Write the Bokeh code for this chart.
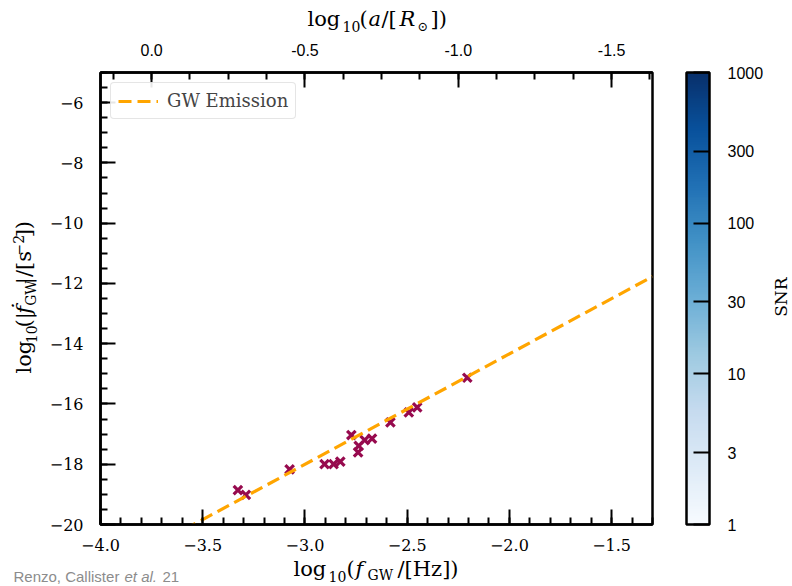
import math
from bokeh.plotting import figure
from bokeh.layouts import column, row
from bokeh.models import (Range1d, LinearAxis, SingleIntervalTicker, CustomJSTickFormatter,
                          ColorBar, LogColorMapper, FixedTicker, Label, Legend, LegendItem,
                          ColumnDataSource)
from bokeh.palettes import Blues256
from bokeh.embed import file_html
from bokeh.resources import INLINE

# ---------------- data ----------------
log_f_gw = [-3.328, -3.289, -3.075, -2.904, -2.860, -2.827, -2.773, -2.740,
            -2.737, -2.708, -2.672, -2.582, -2.492, -2.451, -2.206]
log_fdot_gw = [-18.86, -19.02, -18.17, -18.00, -18.00, -17.91, -17.03, -17.61,
               -17.39, -17.20, -17.15, -16.61, -16.28, -16.11, -15.13]

gw_line_log_f = [-4.0, -1.3]
gw_line_log_fdot = [-21.67, -11.77]

x_limits = [-4.0, -1.3]
y_limits = [-20.0, -5.0]
# top axis: log10(a/Rsun) = a_offset - (2/3) log10(f_GW)
a_offset = -2.5
a_limits = [a_offset - (2.0 / 3.0) * x_limits[0], a_offset - (2.0 / 3.0) * x_limits[1]]

snr_low, snr_high = 1, 1000
snr_ticks = [1, 3, 10, 30, 100, 300, 1000]

SERIF = "DejaVu Serif"
SANS = "Liberation Sans"

# page geometry (px)
W, H = 792, 586
TOP_H, BOT_H = 36, 29
LEFT_W, RIGHT_W = 45, 26
MAIN_H = H - TOP_H - BOT_H
P_W = 617          # main plot figure: frame from x=100 to x=652 on the page
CB_W = W - LEFT_W - RIGHT_W - P_W   # colour-bar figure

# ---------------- main figure ----------------
p = figure(width=P_W, height=MAIN_H, output_backend="svg", toolbar_location=None,
           x_range=Range1d(*x_limits), y_range=Range1d(*y_limits),
           min_border_left=55, min_border_right=10, min_border_top=36,
           min_border_bottom=33)
p.background_fill_color = "white"
p.border_fill_color = "white"
p.xgrid.visible = False
p.ygrid.visible = False
p.outline_line_color = "black"
p.outline_line_width = 2.5

src = ColumnDataSource(dict(x=log_f_gw, y=log_fdot_gw))
p.scatter("x", "y", source=src, marker="x", size=12, line_width=3.2,
          line_color="#970a4e")

line_r = p.line(gw_line_log_f, gw_line_log_fdot, line_color="#FFA500",
                line_width=3.2, line_dash="13 6")

def style_axis(ax, font, size):
    ax.axis_line_width = 2.5
    ax.axis_line_color = "black"
    ax.major_tick_in = 15
    ax.major_tick_out = 0
    ax.minor_tick_in = 7
    ax.minor_tick_out = 0
    ax.major_tick_line_width = 2
    ax.minor_tick_line_width = 2
    ax.major_tick_line_color = "black"
    ax.minor_tick_line_color = "black"
    ax.major_label_text_font = font
    ax.major_label_text_font_size = size
    ax.major_label_text_color = "black"

xa = p.xaxis[0]
xa.ticker = SingleIntervalTicker(interval=0.5, num_minor_ticks=5)
xa.formatter = CustomJSTickFormatter(code="return tick.toFixed(1).replace('-', '\u2212');")
style_axis(xa, SERIF, "16px")
xa.major_label_standoff = 14

ya = p.yaxis[0]
ya.ticker = SingleIntervalTicker(interval=2, num_minor_ticks=4)
ya.formatter = CustomJSTickFormatter(code="return tick.toFixed(0).replace('-', '\u2212');")
style_axis(ya, SERIF, "16px")
ya.major_label_standoff = 17

p.extra_x_ranges = {"a": Range1d(a_limits[0], a_limits[1])}
ta = LinearAxis(x_range_name="a",
                ticker=SingleIntervalTicker(interval=0.5, num_minor_ticks=4),
                formatter=CustomJSTickFormatter(code="return tick.toFixed(1);"))
style_axis(ta, SANS, "16px")
ta.major_label_standoff = 17
p.add_layout(ta, "above")

# ---------------- legend ----------------
legend = Legend(items=[LegendItem(label="GW Emission", renderers=[line_r])],
                location="top_left", margin=10, padding=7, spacing=0,
                label_text_font=SERIF, label_text_font_size="18px",
                label_standoff=9, glyph_width=40, glyph_height=20,
                border_line_color="#cccccc", border_line_width=1,
                border_radius=4, background_fill_color="white",
                background_fill_alpha=0.9)
p.add_layout(legend)

# ---------------- colour bar figure (1 px frame, bar in its right panel) ----------------
cbf = figure(width=CB_W, height=MAIN_H, output_backend="svg", toolbar_location=None,
             x_range=Range1d(0, 1), y_range=Range1d(*y_limits),
             min_border_left=23, min_border_right=CB_W - 24, min_border_top=36,
             min_border_bottom=33, x_axis_type=None, y_axis_type=None)
cbf.grid.visible = False
cbf.outline_line_color = None
cbf.border_fill_color = "white"

mapper = LogColorMapper(palette=list(reversed(Blues256)), low=snr_low, high=snr_high)
cb = ColorBar(color_mapper=mapper, ticker=FixedTicker(ticks=snr_ticks),
              formatter=CustomJSTickFormatter(code="return String(Math.round(tick));"),
              location="top_left", orientation="vertical", width=23, height="auto",
              margin=0, padding=0,
              bar_line_color="black", bar_line_width=2.5,
              major_tick_line_color="black", major_tick_line_width=2,
              major_tick_in=16, major_tick_out=0, minor_tick_line_color=None,
              major_label_text_font=SANS, major_label_text_font_size="16px",
              major_label_text_color="black", label_standoff=18,
              background_fill_alpha=0, border_line_color=None)
cbf.add_layout(cb, "right")

# ---------------- text strips around the plot ----------------
def text_fig(w, h):
    f = figure(width=w, height=h, x_range=Range1d(0, w), y_range=Range1d(0, h),
               output_backend="svg", toolbar_location=None, min_border=0,
               x_axis_type=None, y_axis_type=None)
    f.grid.visible = False
    f.outline_line_color = None
    f.background_fill_color = "white"
    f.border_fill_color = "white"
    return f

top_f = text_fig(W, TOP_H)
bot_f = text_fig(W, BOT_H)
left_f = text_fig(LEFT_W, MAIN_H)
right_f = text_fig(RIGHT_W, MAIN_H)

BASE_SHIFT = 0.4   # empirical: Bokeh draws "alphabetic" text ~0.4 em below the anchor

def piece(fig, ox, oy, text, X, Y, size, font=SERIF, style="normal", angle=0.0,
          color="black", align="left"):
    """Place text with its baseline at page pixel (X, Y); (ox, oy) = strip's top-left."""
    if angle == 0.0:
        Y = Y - BASE_SHIFT * size
    else:
        X = X - BASE_SHIFT * size
    fh = fig.height
    fig.add_layout(Label(x=X - ox, y=fh - (Y - oy), x_units="data", y_units="data",
                         text=text, text_font=font, text_font_size=f"{size}px",
                         text_font_style=style, text_color=color, angle=angle,
                         text_align=align, text_baseline="alphabetic"))

BOT_Y0 = H - BOT_H
# bottom: log10(f_GW/[Hz])
piece(bot_f, 0, BOT_Y0, "log", 293, 577, 21)
piece(bot_f, 0, BOT_Y0, "10", 328, 582, 14)
piece(bot_f, 0, BOT_Y0, "(", 346, 577, 21)
piece(bot_f, 0, BOT_Y0, "f", 355, 577, 21, style="italic")
piece(bot_f, 0, BOT_Y0, "GW", 367, 580, 14)
piece(bot_f, 0, BOT_Y0, "/[Hz])", 397, 577, 21)
# credit
piece(bot_f, 0, BOT_Y0, "Renzo, Callister", 13, 582, 15, font=SANS, color="#8c8c8c")
piece(bot_f, 0, BOT_Y0, "et al.", 124, 582, 15, font=SANS, style="italic", color="#8c8c8c")
piece(bot_f, 0, BOT_Y0, "21", 162, 582, 15, font=SANS, color="#8c8c8c")

# top: log10(a/[R_sun])
piece(top_f, 0, 0, "log", 307, 27, 21)
piece(top_f, 0, 0, "10", 342, 32, 14)
piece(top_f, 0, 0, "(", 359, 27, 21)
piece(top_f, 0, 0, "a", 368, 27, 21, style="italic")
piece(top_f, 0, 0, "/[", 381, 27, 21)
piece(top_f, 0, 0, "R", 399, 27, 21, style="italic")
piece(top_f, 0, 0, "\u2299", 417, 31, 13)
piece(top_f, 0, 0, "])", 430, 27, 21)

# left (rotated): log10(|fdot_GW|/[s^-2])
up = math.pi / 2
piece(left_f, 0, TOP_H, "log", 32, 383, 21, angle=up)
piece(left_f, 0, TOP_H, "10", 37, 348, 14, angle=up)
piece(left_f, 0, TOP_H, "(|", 32, 330, 21, angle=up)
piece(left_f, 0, TOP_H, "\u1e1f", 32, 314, 21, style="italic", angle=up)
piece(left_f, 0, TOP_H, "GW", 36, 305, 14, angle=up)
piece(left_f, 0, TOP_H, "|/[s", 32, 280, 21, angle=up)
piece(left_f, 0, TOP_H, "\u22122", 24, 247, 14, angle=up)
piece(left_f, 0, TOP_H, "])", 32, 226, 21, angle=up)

# colour-bar title
piece(right_f, W - RIGHT_W, TOP_H, "SNR", 787, 295, 17, angle=up, align="center")

layout = column(top_f, row(left_f, p, cbf, right_f, spacing=0), bot_f, spacing=0)

open("out.html", "w").write(file_html(layout, INLINE))
